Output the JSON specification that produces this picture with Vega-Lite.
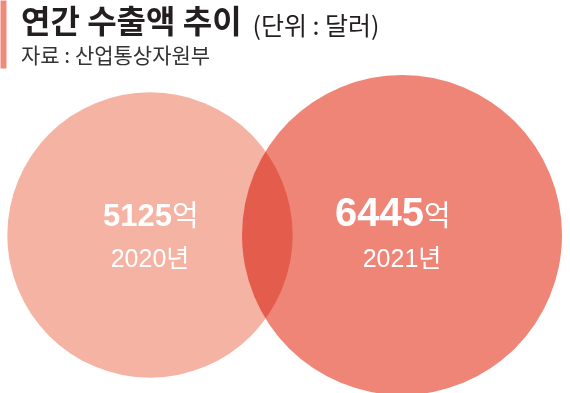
{
  "$schema": "https://vega.github.io/schema/vega-lite/v6.json",
  "width": 570,
  "height": 316,
  "autosize": "none",
  "padding": {"top": 77, "left": 0, "right": 0, "bottom": 0},
  "background": "white",
  "config": {"view": {"stroke": null}},
  "title": {
    "text": "연간 수출액 추이",
    "subtitle": "자료 : 산업통상자원부",
    "anchor": "start",
    "frame": "group",
    "dx": 21,
    "offset": -71,
    "font": "Noto Sans CJK KR",
    "fontSize": 32,
    "fontWeight": "bold",
    "color": "#231f20",
    "subtitleFont": "Noto Sans CJK KR",
    "subtitleFontSize": 21,
    "subtitleColor": "#333333",
    "subtitlePadding": 6
  },
  "data": {
    "values": [
      {"year": "2020", "value": 5125, "unit": "억", "label": "2020년"},
      {"year": "2021", "value": 6445, "unit": "억", "label": "2021년"}
    ]
  },
  "encoding": {
    "x": {
      "field": "year",
      "type": "ordinal",
      "scale": {"type": "point", "range": [150, 402], "padding": 0},
      "axis": {
        "orient": "top",
        "values": ["2020"],
        "labels": false,
        "domain": false,
        "grid": false,
        "ticks": true,
        "tickSize": 68,
        "tickWidth": 6,
        "tickColor": "#ef8a7c",
        "tickCap": "butt",
        "tickOffset": -147,
        "offset": 9,
        "title": "(단위 : 달러)",
        "titleX": 252,
        "titleY": -34,
        "titleAlign": "left",
        "titleBaseline": "alphabetic",
        "titleAngle": 0,
        "titleFont": "Noto Sans CJK KR",
        "titleFontSize": 25,
        "titleFontWeight": "normal",
        "titleColor": "#231f20"
      }
    }
  },
  "layer": [
    {
      "mark": {"type": "point", "filled": true, "opacity": 1, "shape": "circle", "strokeWidth": 0, "blend": "multiply"},
      "encoding": {
        "size": {"field": "value", "type": "quantitative", "scale": {"domain": [0, 6445], "range": [0, 102400], "zero": true}, "legend": null},
        "color": {"field": "year", "type": "nominal", "scale": {"domain": ["2020", "2021"], "range": ["#f4b3a3", "#ef8576"]}, "legend": null}
      }
    },
    {
      "mark": {"type": "text", "align": "right", "baseline": "alphabetic", "dx": 22, "dy": -9, "font": "Liberation Sans", "fontWeight": "bold", "color": "white"},
      "encoding": {
        "text": {"field": "value", "type": "quantitative", "format": "d"},
        "size": {"field": "value", "type": "quantitative", "scale": {"domain": [5125, 6445], "range": [31, 40]}, "legend": null}
      }
    },
    {
      "mark": {"type": "text", "align": "left", "baseline": "alphabetic", "dx": 22, "dy": -9, "font": "Noto Sans CJK KR", "fontSize": 29, "fontWeight": "normal", "color": "white"},
      "encoding": {"text": {"field": "unit"}}
    },
    {
      "mark": {"type": "text", "align": "center", "baseline": "alphabetic", "dy": 32, "font": "Liberation Sans, Noto Sans CJK KR", "fontSize": 25, "fontWeight": "normal", "color": "white"},
      "encoding": {"text": {"field": "label"}}
    }
  ],
  "resolve": {"scale": {"size": "independent"}}
}
